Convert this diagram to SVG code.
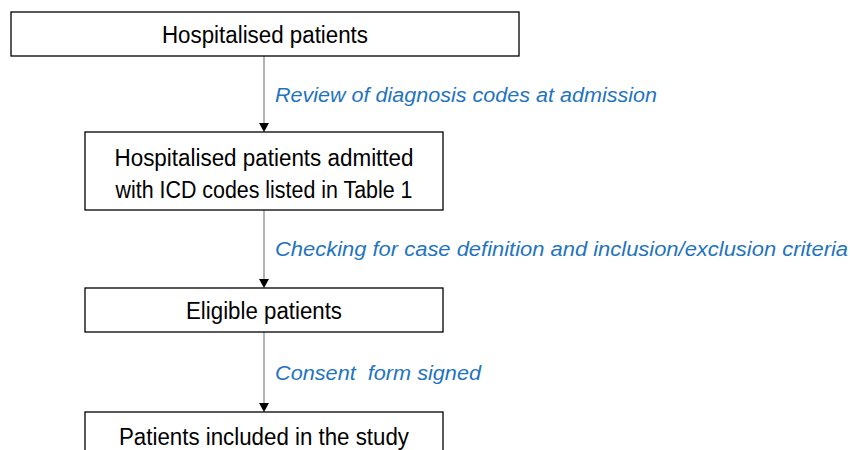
<svg xmlns="http://www.w3.org/2000/svg" width="850" height="450" viewBox="0 0 850 450">
<defs>
<style>
.box{fill:#fff;stroke:#000;stroke-width:1.3}
.t{font-family:"Liberation Sans",Arial,sans-serif;font-size:23.5px;fill:#000;text-anchor:middle}
.lbl{font-family:"Liberation Sans",Arial,sans-serif;font-size:20px;font-style:italic;fill:#1F74BF}
.con{stroke:#8c8c8c;stroke-width:1.3;fill:none}
.ah{fill:#000}
</style>
</defs>
<rect width="850" height="450" fill="#fff"/>
<g id="connectors">
<line class="con" x1="264" y1="56" x2="264" y2="124"/>
<path class="ah" d="M259,123 L269,123 L264,132 Z"/>
<line class="con" x1="264" y1="210" x2="264" y2="280"/>
<path class="ah" d="M259,279 L269,279 L264,288 Z"/>
<line class="con" x1="264" y1="332" x2="264" y2="404"/>
<path class="ah" d="M259,403 L269,403 L264,412 Z"/>
<text class="lbl" x="275" y="102" textLength="382" lengthAdjust="spacingAndGlyphs">Review of diagnosis codes at admission</text>
<text class="lbl" x="275" y="256" textLength="573" lengthAdjust="spacingAndGlyphs">Checking for case definition and inclusion/exclusion criteria</text>
<text class="lbl" x="275" y="380" textLength="206" lengthAdjust="spacingAndGlyphs" xml:space="preserve">Consent  form signed</text>
</g>
<g id="n1">
<rect class="box" x="11" y="12" width="508" height="44"/>
<text class="t" x="265" y="43" textLength="206" lengthAdjust="spacingAndGlyphs">Hospitalised patients</text>
</g>
<g id="n2">
<rect class="box" x="85" y="132" width="358" height="78"/>
<text class="t" x="264" y="166" textLength="299" lengthAdjust="spacingAndGlyphs">Hospitalised patients admitted</text>
<text class="t" x="264" y="198" textLength="297" lengthAdjust="spacingAndGlyphs">with ICD codes listed in Table 1</text>
</g>
<g id="n3">
<rect class="box" x="85" y="288" width="358" height="44"/>
<text class="t" x="264" y="319" textLength="156" lengthAdjust="spacingAndGlyphs">Eligible patients</text>
</g>
<g id="n4">
<rect class="box" x="85" y="412" width="358" height="60"/>
<text class="t" x="264" y="445" textLength="290" lengthAdjust="spacingAndGlyphs">Patients included in the study</text>
</g>
</svg>
